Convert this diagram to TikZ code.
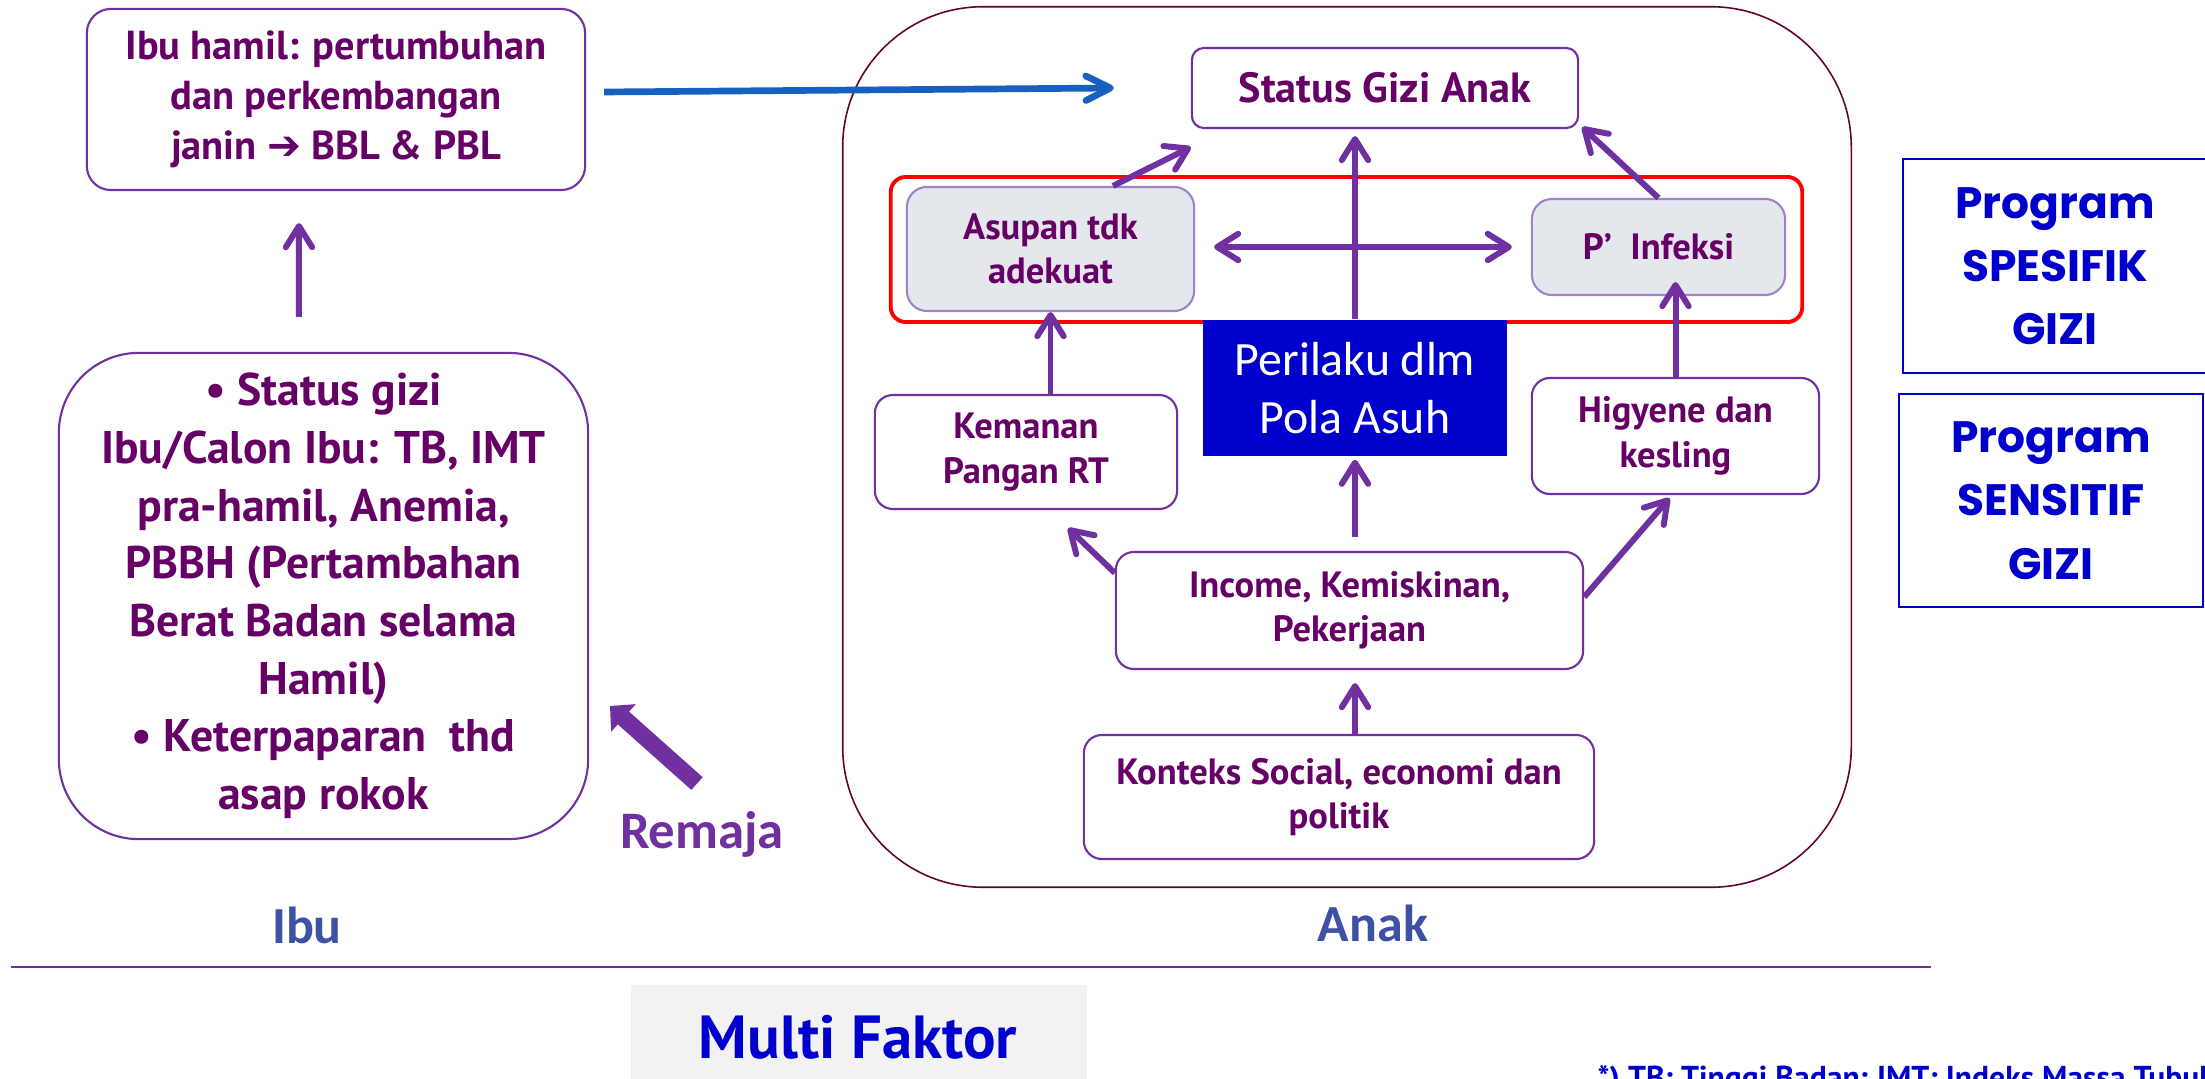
\documentclass[tikz,border=0pt]{standalone}
\usepackage{fontspec}
\setmainfont{PT Sans}
\newfontfamily\calibri{Carlito}
\newfontfamily\gothic{Poppins}
\newfontfamily\symfont{DejaVu Sans}
\usetikzlibrary{arrows.meta,positioning}

\definecolor{txtpurple}{RGB}{102,0,102}
\definecolor{linepurple}{RGB}{112,48,160}
\definecolor{softpurple}{RGB}{160,130,200}
\definecolor{framered}{RGB}{102,0,51}
\definecolor{boxgrey}{RGB}{228,231,236}
\definecolor{progblue}{RGB}{0,0,204}
\definecolor{labelblue}{RGB}{63,81,165}
\definecolor{arrowblue}{RGB}{21,96,192}
\definecolor{bggrey}{RGB}{242,242,242}

\tikzset{
 factor/.style={draw=linepurple, line width=0.6pt, rounded corners=1.8mm, align=center,
  text=txtpurple, inner sep=0pt, font=\bfseries\fontsize{10.4}{12.6}\selectfont},
 greyfactor/.style={factor, fill=boxgrey, draw=softpurple, rounded corners=2mm},
 program/.style={draw=progblue, line width=0.6pt, align=center, text=progblue, inner sep=0pt,
  font=\gothic\bfseries\fontsize{12.5}{18}\selectfont},
 sidelabel/.style={text=labelblue, font=\calibri\bfseries\fontsize{14.8}{17}\selectfont},
 link/.style={draw=linepurple, line width=1.7pt, -{Straight Barb[round,length=6pt,width=7.5pt]}},
}

\begin{document}
\begin{tikzpicture}[x=0.01cm,y=-0.01cm]
 \useasboundingbox (0,0) rectangle (2205,1079);
 \clip (0,0) rectangle (2205,1079);

 % ibu
 \node[factor, rounded corners=2.4mm, minimum width=49.8mm, minimum height=18.1mm,
  font=\bfseries\fontsize{11.5}{14.3}\selectfont] (hamil) at (336,99.5)
  {Ibu hamil: pertumbuhan\\dan perkembangan\\janin {\symfont\char"2794} BBL \& PBL};
 \node[factor, rounded corners=8mm, minimum width=52.9mm, minimum height=48.6mm,
  font=\bfseries\fontsize{13}{16.4}\selectfont] (statusibu) at (323.5,596)
  {\textbullet\ Status gizi\\Ibu/Calon Ibu: TB, IMT\\pra-hamil, Anemia,\\PBBH (Pertambahan\\
   Berat Badan selama\\Hamil)\\\textbullet\ Keterpaparan\ \ thd\\asap rokok};
 \draw[link] ([xshift=-2.45mm,yshift=3.5mm]statusibu.north) -- ([xshift=-3.7mm,yshift=-3.2mm]hamil.south);
 \node[text=linepurple, font=\calibri\bfseries\fontsize{15}{17}\selectfont, anchor=base] (remaja) at (702,848) {Remaja};
 \coordinate (remajatip) at (610,706);
 \draw[linepurple, line width=1.7mm, -{Triangle[width=3.6mm,length=1.8mm]}]
  ([xshift=-0.5mm,yshift=1.5mm]remaja.north) -- (remajatip);

 % anak
 \node[draw=framered, line width=0.45pt, rounded corners=14mm, minimum width=100.8mm,
  minimum height=88mm] (anak) at (1347,447) {};
 \node[draw=red, line width=1.1pt, rounded corners=1.5mm, minimum width=91.1mm,
  minimum height=14.5mm] (redframe) at (1346.5,249.5) {};
 \node[factor, rounded corners=1.2mm, minimum width=38.6mm, minimum height=8mm,
  font=\bfseries\fontsize{12}{14}\selectfont] (statusgizi) at (1385,88) {Status Gizi Anak};
 \node[greyfactor, minimum width=28.7mm, minimum height=12.4mm] (asupan) at (1050.5,249) {Asupan tdk\\adekuat};
 \node[greyfactor, minimum width=25.3mm, minimum height=9.6mm] (infeksi) at (1658.5,247) {P’\ \ Infeksi};
 \node[fill=progblue, text=white, inner sep=0pt, align=center, minimum width=30.4mm, minimum height=13.6mm,
  font=\calibri\fontsize{13.6}{16.4}\selectfont] (perilaku) at (1355,388) {Perilaku dlm\\Pola Asuh};
 \node[factor, minimum width=30.2mm, minimum height=11.4mm] (kemanan) at (1026,452) {Kemanan\\Pangan RT};
 \node[factor, minimum width=28.7mm, minimum height=11.6mm] (higyene) at (1675.5,436) {Higyene dan\\kesling};
 \node[factor, minimum width=46.7mm, minimum height=11.7mm] (income) at (1349.5,610.5) {Income, Kemiskinan,\\Pekerjaan};
 \node[factor, minimum width=51mm, minimum height=12.4mm] (konteks) at (1339,797) {Konteks Social, economi dan\\politik};

 \draw[link] ([xshift=6.25mm]asupan.north) -- ([yshift=-1.8mm]statusgizi.south west);
 \draw[link] (infeksi.north) -- ([xshift=0.3mm,yshift=0.2mm]statusgizi.south east);
 \draw[link, shorten >=0.7mm] (perilaku.north) -- (perilaku.north |- statusgizi.south);
 \draw[link, {Straight Barb[round,length=6pt,width=7.5pt]}-{Straight Barb[round,length=6pt,width=7.5pt]},
  shorten <=1.9mm, shorten >=1.9mm] (asupan.east |- infeksi.west) -- (infeksi.west);
 \draw[link] (asupan.south |- kemanan.north) -- (asupan.south);
 \draw[link, shorten >=-1.4mm] (higyene.north) -- (higyene.north |- infeksi.south);
 \draw[link, shorten <=1.4mm, shorten >=0.3mm] (perilaku.south |- income.north) -- (perilaku.south);
 \draw[link] ([yshift=-2.2mm]income.north west) -- ([xshift=4.2mm,yshift=-1.8mm]kemanan.south);
 \draw[link] ([yshift=1.35mm]income.east) -- ([xshift=-0.6mm,yshift=-0.3mm]higyene.south);
 \draw[link, shorten >=1.3mm] (perilaku.south |- konteks.north) -- (perilaku.south |- income.south);

 \draw[arrowblue, line width=1.9pt, -{Straight Barb[round,length=7pt,width=7pt]}]
  ([xshift=1.8mm,yshift=0.75mm]hamil.east) -- ([xshift=-7.7mm]statusgizi.west);

 % program
 \node[program, minimum width=30.4mm, minimum height=21.4mm] (spesifik) at (2055,266) {Program\\SPESIFIK\\GIZI};
 \node[program, minimum width=30.4mm, minimum height=21.3mm] (sensitif) at (2051,500.5) {Program\\SENSITIF\\GIZI};

 % bawah
 \node[sidelabel] (ibu) at (307,925) {Ibu};
 \node[sidelabel] (anaklabel) at (1373,923) {Anak};
 \draw[linepurple, line width=0.8pt] (11,967) -- (1931,967);
 \node[fill=bggrey, minimum width=45.6mm, minimum height=12mm] (multi) at (859,1045) {};
 \node[text=progblue, font=\bfseries\fontsize{17.3}{20}\selectfont] at (858,1037) {Multi Faktor};
 \node[text=progblue, anchor=base west, inner sep=0pt, font=\bfseries\fontsize{9}{11}\selectfont] (catatan) at (1597,1088)
  {*) TB: Tinggi Badan; IMT: Indeks Massa Tubuh};
\end{tikzpicture}
\end{document}
